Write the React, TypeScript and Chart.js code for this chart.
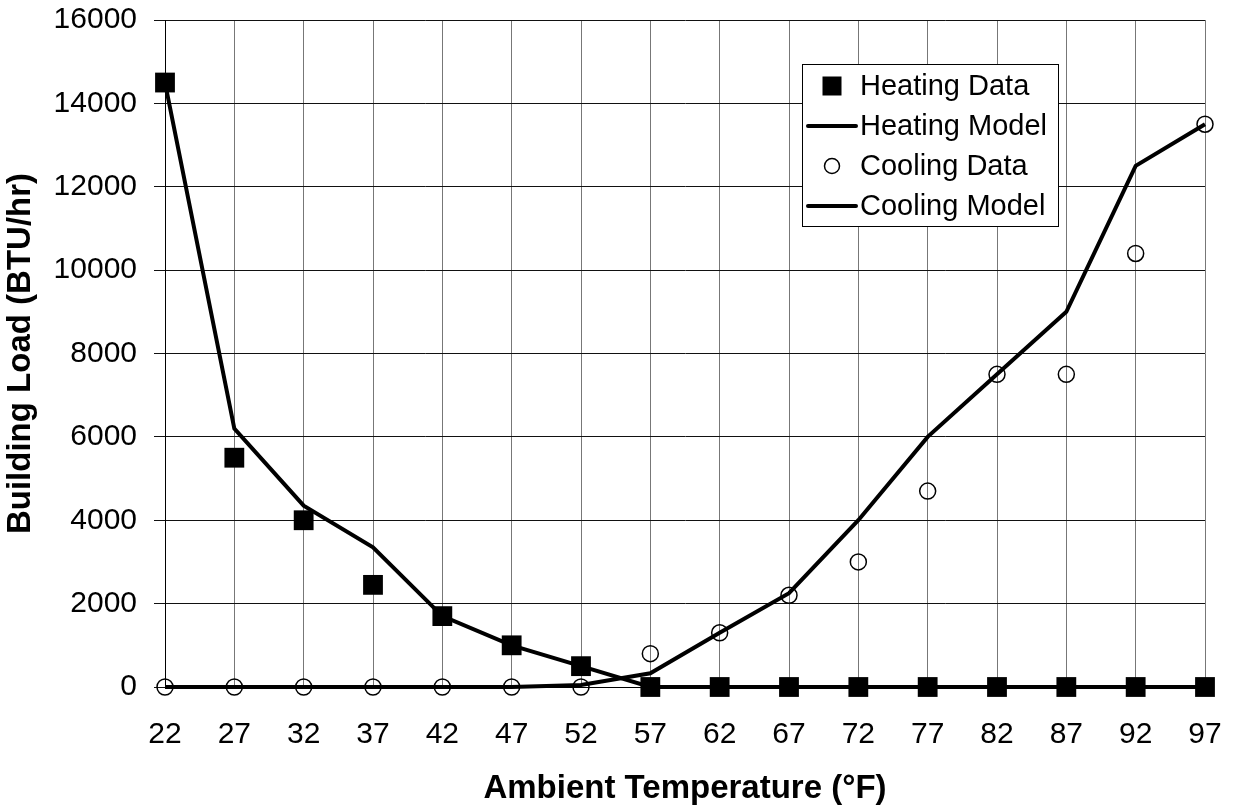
import React, { useEffect, useRef } from "react";
import { Chart, registerables } from "chart.js";

Chart.register(...registerables);

const temperatures = ["22", "27", "32", "37", "42", "47", "52", "57", "62", "67", "72", "77", "82", "87", "92", "97"];
const heatingData = [14500, 5500, 4000, 2450, 1700, 1000, 500, 0, 0, 0, 0, 0, 0, 0, 0, 0];
const heatingModel = [14500, 6200, 4350, 3350, 1700, 1000, 500, 0, 0, 0, 0, 0, 0, 0, 0, 0];
const coolingData = [0, 0, 0, 0, 0, 0, 0, 800, 1300, 2200, 3000, 4700, 7500, 7500, 10400, 13500];
const coolingModel = [0, 0, 0, 0, 0, 0, 50, 330, 1300, 2250, 4000, 6000, 7500, 9000, 12500, 13500];
const yTicks = [0, 2000, 4000, 6000, 8000, 10000, 12000, 14000, 16000];

const FONT = '"Liberation Sans", Arial, Helvetica, sans-serif';

const insideLegend = {
  id: "insideLegend",
  afterDraw(chart: any) {
    const { ctx, chartArea } = chart;
    const left = chartArea.left + 637;
    const top = chartArea.top + 44;
    const w = 256;
    const h = 162;
    ctx.save();
    ctx.fillStyle = "#ffffff";
    ctx.fillRect(left, top, w, h);
    ctx.strokeStyle = "#000000";
    ctx.lineWidth = 1;
    ctx.strokeRect(left + 0.5, top + 0.5, w, h);
    ctx.font = `29px ${FONT}`;
    ctx.textBaseline = "middle";
    ctx.textAlign = "left";
    chart.data.datasets.forEach((ds: any, i: number) => {
      const cy = top + 22 + i * 40;
      const cx = left + 30;
      if (ds.showLine === false) {
        if (ds.pointStyle === "rect") {
          ctx.fillStyle = "#000";
          ctx.fillRect(cx - 9.5, cy - 9.5, 19, 19);
        } else {
          ctx.beginPath();
          ctx.arc(cx, cy, 7.5, 0, Math.PI * 2);
          ctx.lineWidth = 1.5;
          ctx.strokeStyle = "#000";
          ctx.stroke();
        }
      } else {
        ctx.beginPath();
        ctx.moveTo(left + 6, cy);
        ctx.lineTo(left + 54, cy);
        ctx.lineWidth = 4;
        ctx.strokeStyle = "#000";
        ctx.lineCap = "round";
        ctx.stroke();
      }
      ctx.fillStyle = "#000";
      ctx.fillText(ds.label, left + 58, cy + 1);
    });
    ctx.restore();
  },
};

export default function App() {
  const ref = useRef<HTMLCanvasElement>(null);
  useEffect(() => {
    if (!ref.current) return;
    const chart = new Chart(ref.current, {
      type: "line",
      data: {
        labels: temperatures,
        datasets: [
          {
            label: "Heating Data",
            data: heatingData,
            showLine: false,
            pointStyle: "rect",
            pointRadius: 14,
            pointBackgroundColor: "#000",
            pointBorderColor: "#000",
            pointBorderWidth: 0,
            borderColor: "#000",
            backgroundColor: "#000",
            clip: false,
          },
          {
            label: "Heating Model",
            data: heatingModel,
            borderColor: "#000",
            borderWidth: 4,
            pointRadius: 0,
            tension: 0,
            fill: false,
            clip: false,
          },
          {
            label: "Cooling Data",
            data: coolingData,
            showLine: false,
            pointStyle: "circle",
            pointRadius: 8,
            pointBackgroundColor: "rgba(0,0,0,0)",
            pointBorderColor: "#000",
            pointBorderWidth: 1.5,
            borderColor: "#000",
            backgroundColor: "rgba(0,0,0,0)",
            clip: false,
          },
          {
            label: "Cooling Model",
            data: coolingModel,
            borderColor: "#000",
            borderWidth: 4,
            pointRadius: 0,
            tension: 0,
            fill: false,
            clip: false,
          },
        ],
      },
      options: {
        animation: false,
        responsive: true,
        maintainAspectRatio: false,
        layout: { padding: { top: 20, right: 28, left: 0, bottom: 0 } },
        plugins: {
          legend: { display: false },
          tooltip: { enabled: false },
        },
        scales: {
          x: {
            type: "category",
            offset: false,
            grid: { color: "#777", lineWidth: 1, drawTicks: false },
            border: { color: "#000", width: 1 },
            ticks: {
              color: "#000",
              font: { family: FONT, size: 30 },
              padding: 30,
              maxRotation: 0,
              autoSkip: false,
            },
            title: {
              display: true,
              text: "Ambient Temperature (°F)",
              color: "#000",
              font: { family: FONT, size: 33, weight: "bold" },
              padding: { top: 0, bottom: 0 },
            },
            afterFit: (scale: any) => {
              scale.height = 122;
              scale.paddingLeft = 0;
              scale.paddingRight = 0;
            },
          },
          y: {
            min: 0,
            max: 16000,
            afterBuildTicks: (scale: any) => {
              scale.ticks = yTicks.map((v) => ({ value: v }));
            },
            grid: { color: "#111", lineWidth: 1, tickLength: 11 },
            border: { color: "#000", width: 1 },
            ticks: {
              color: "#000",
              font: { family: FONT, size: 30 },
              padding: 17,
              callback: (v: any) => String(v),
            },
            title: {
              display: true,
              text: "Building Load (BTU/hr)",
              color: "#000",
              font: { family: FONT, size: 33, weight: "bold" },
              padding: { top: 1, bottom: 0 },
            },
            afterFit: (scale: any) => {
              scale.width = 165;
              scale.paddingTop = 0;
              scale.paddingBottom = 0;
            },
          },
        },
      },
      plugins: [insideLegend],
    });
    return () => chart.destroy();
  }, []);
  return (
    <div style={{ position: "absolute", left: 0, top: 0, width: 1233, height: 809, background: "#fff" }}>
      <canvas ref={ref} />
    </div>
  );
}
